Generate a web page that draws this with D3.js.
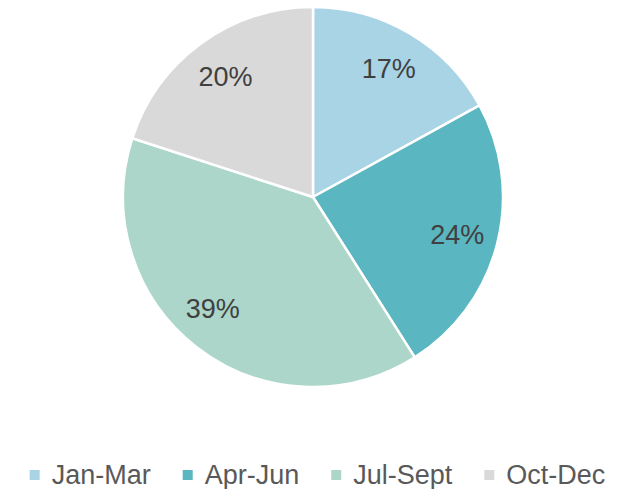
<!DOCTYPE html>
<html>
<head>
<meta charset="utf-8">
<script src="https://cdn.jsdelivr.net/npm/d3@7"></script>
<style>
  body { margin: 0; background: #fff; }
  text { font-family: "Liberation Sans", Arial, sans-serif; }
</style>
</head>
<body>
<div id="chart"></div>
<script>
// quarters and their share of the total
var quarters = ['Jan-Mar', 'Apr-Jun', 'Jul-Sept', 'Oct-Dec'];
var shares = [17, 24, 39, 20];
var colors = ['#a9d4e6', '#5ab6c1', '#acd6c9', '#d9d9d9'];

var width = 638, height = 489;
var cx = 313, cy = 197, radius = 190;

var svg = d3.select('#chart')
    .append('svg')
    .attr('width', width)
    .attr('height', height);

var data = quarters.map(function(q, i) { return {name: q, value: shares[i]}; });

var color = d3.scaleOrdinal()
    .domain(quarters)
    .range(colors);

var pie = d3.pie()
    .sort(null)
    .value(function(d) { return d.value; });

var arc = d3.arc().innerRadius(0).outerRadius(radius);
var labelArc = d3.arc().innerRadius(149).outerRadius(149);

var g = svg.append('g')
    .attr('transform', 'translate(' + cx + ',' + cy + ')');

var arcs = pie(data);
var total = d3.sum(shares);

g.selectAll('path')
    .data(arcs)
    .enter().append('path')
    .attr('d', arc)
    .attr('fill', function(d) { return color(d.data.name); })
    .attr('stroke', '#fff')
    .attr('stroke-width', 2.5)
    .attr('stroke-linejoin', 'round');

g.selectAll('text.lbl')
    .data(arcs)
    .enter().append('text')
    .attr('class', 'lbl')
    .attr('transform', function(d) {
        var c = labelArc.centroid(d);
        // excel pulls the big slice's label a bit further round
        if (d.data.value === d3.max(shares)) { c[0] -= 9; c[1] -= 6; }
        return 'translate(' + c + ')';
    })
    .attr('text-anchor', 'middle')
    .attr('dy', '0.35em')
    .attr('font-size', 27)
    .attr('fill', '#404040')
    .text(function(d) { return Math.round(d.data.value / total * 100) + '%'; });

// legend along the bottom, centred
var legend = svg.append('g');
var x = 0;
quarters.forEach(function(q, i) {
    var item = legend.append('g').attr('transform', 'translate(' + x + ',0)');
    item.append('rect')
        .attr('x', 0).attr('y', 470)
        .attr('width', 10).attr('height', 10)
        .attr('fill', color(q));
    var t = item.append('text')
        .attr('x', 22).attr('y', 484)
        .attr('font-size', 27)
        .attr('fill', '#595959')
        .text(q);
    x += 22 + t.node().getComputedTextLength() + 32;
});
var lw = x - 32;
legend.attr('transform', 'translate(' + (317.5 - lw / 2) + ',0)');
</script>
</body>
</html>
